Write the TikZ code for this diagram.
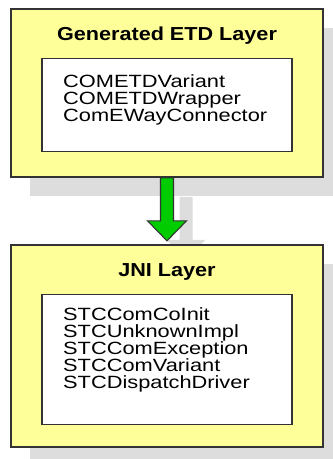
\documentclass[tikz,border=0pt]{standalone}
\usepackage{fontspec}
\setmainfont{Liberation Sans}
\newfontfamily\namefont{Liberation Sans}[FakeStretch=1.23]
\newfontfamily\layerfont{Liberation Sans}[FakeStretch=1.15]
\usetikzlibrary{positioning,calc,shadows}
\definecolor{LayerYellow}{HTML}{FFFF99}
\definecolor{ShadowGray}{HTML}{DDDDDD}
\definecolor{ArrowGreen}{HTML}{00CC00}
\definecolor{EdgeGray}{HTML}{333333}

\begin{document}
\begin{tikzpicture}[
  x=0.75pt,y=-0.75pt,
  layershadow/.style={general shadow={fill=ShadowGray,shadow xshift=14.25pt,shadow yshift=-14.25pt}},
  layerbox/.style={rectangle,draw=EdgeGray,line width=1.3pt,fill=LayerYellow,
                   minimum width=234pt,minimum height=126pt,inner sep=0pt,layershadow},
  listbox/.style={rectangle,draw=EdgeGray,line width=0.9pt,fill=white,
                  minimum width=187.5pt,inner sep=0pt},
  titletext/.style={font=\layerfont\fontsize{14.1}{16}\selectfont\bfseries,anchor=base,inner sep=0pt},
  nametext/.style={font=\namefont\fontsize{13.3}{12.75}\selectfont,align=left,
                   anchor=north west,inner sep=0pt},
  greenarrow/.style={draw=EdgeGray,line width=0.8pt,fill=ArrowGreen,layershadow}
]
\useasboundingbox (0,0) rectangle (332,459);

% upper layer
\node[layerbox] (etd) at (167,93) {};
\node[titletext] (etdtitle) at ($(etd.north)+(0,32.7)$) {Generated ETD Layer};
\node[listbox,minimum height=69.75pt,below=37.5pt of etd.north] (etdlist) {};
\node[nametext] (etdnames) at ($(etdlist.north west)+(21.5,16.5)$)
  {COMETDVariant\\COMETDWrapper\\ComEWayConnector};

% arrow between the layers
\coordinate[below=49.5pt of etd.south] (jnitop);
\coordinate[above=2.25pt of jnitop] (tip);
\draw[greenarrow] ($(etd.south)+(-6.5,0)$) -- ($(etd.south)+(6.5,0)$)
  -- ($(tip)+(6.5,-20)$) -- ($(tip)+(19.5,-20)$) -- (tip)
  -- ($(tip)+(-19.5,-20)$) -- ($(tip)+(-6.5,-20)$) -- cycle;

% lower layer
\node[layerbox,minimum height=151.5pt,anchor=north] (jni) at (jnitop) {};
\node[titletext] (jnititle) at ($(jni.north)+(0,33)$) {JNI Layer};
\node[listbox,minimum height=97.5pt,below=37.5pt of jni.north] (jnilist) {};
\node[nametext] (jninames) at ($(jnilist.north west)+(21.5,14)$)
  {STCComCoInit\\STCUnknownImpl\\STCComException\\STCComVariant\\STCDispatchDriver};
\end{tikzpicture}
\end{document}
